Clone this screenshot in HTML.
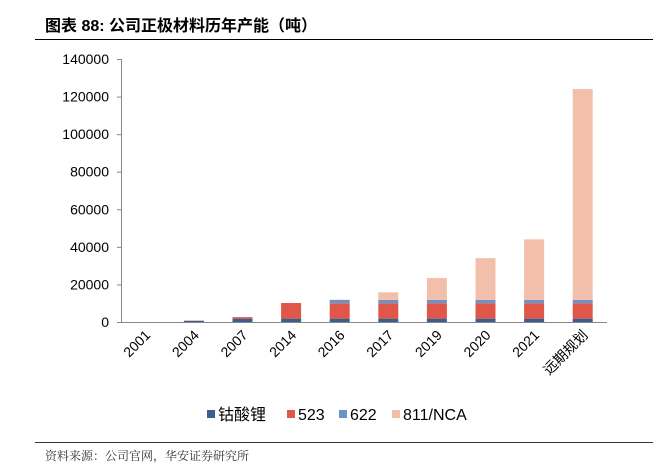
<!DOCTYPE html>
<html><head><meta charset="utf-8">
<style>
body{margin:0;background:#fff;width:653px;height:472px;overflow:hidden;font-family:"Liberation Sans","Noto Sans CJK SC",sans-serif;}
svg{display:block}
</style></head>
<body>
<svg id="chart" width="653" height="472" xmlns="http://www.w3.org/2000/svg">
<text x="45" y="31" font-size="16" font-weight="bold" fill="#000" font-family="Liberation Sans,Noto Sans CJK SC,sans-serif">图表 88:  公司正极材料历年产能（吨）</text>
<line x1="35" y1="39.5" x2="653" y2="39.5" stroke="#000" stroke-width="1"/>
<line x1="35" y1="442.5" x2="653" y2="442.5" stroke="#333" stroke-width="1"/>
<text x="45" y="460" font-size="12" fill="#333" font-family="Liberation Sans,Noto Serif CJK SC,sans-serif">资料来源：公司官网，华安证券研究所</text>
<g id="plot"></g>
<g id="legend"></g>
</svg>
<script>
const categories=["2001","2004","2007","2014","2016","2017","2019","2020","2021","远期规划"];
const licoo2=[0,700,1800,1800,1800,1800,1800,1800,1800,1800];
const ncm523=[0,0,800,8300,8200,8200,8200,8200,8200,8200];
const ncm622=[0,0,0,0,1800,1800,1800,1800,1800,1800];
const nca811=[0,200,0,0,0,4000,11600,22200,32200,112200];
const yTicks=[0,20000,40000,60000,80000,100000,120000,140000];
const seriesNames=["钴酸锂","523","622","811/NCA"];
const seriesData=[licoo2,ncm523,ncm622,nca811];
const colors=["#3d5e8c","#e0574a","#6b93c7","#f2c0aa"];
const NS="http://www.w3.org/2000/svg";
const x0=121,x1=607,yBase=322,yTop=59,yMax=140000;
const bw=(x1-x0)/categories.length, barW=20;
function y(v){return yBase-(v/yMax)*(yBase-yTop);}
function xc(i){return x0+bw*(i+0.5);}
const plot=document.getElementById('plot');
function mk(tag,attrs){const e=document.createElementNS(NS,tag);for(const k in attrs)e.setAttribute(k,attrs[k]);return e;}
let ax=mk('line',{x1:x0+0.5,y1:yTop,x2:x0+0.5,y2:yBase,stroke:'#888'});


plot.appendChild(ax);
let bx=mk('line',{x1:x0,y1:yBase+0.5,x2:x1,y2:yBase+0.5,stroke:'#888'});


plot.appendChild(bx);
yTicks.forEach(t=>{
  const tk=mk('line',{x1:x0-4,y1:y(t)+0.5,x2:x0,y2:y(t)+0.5,stroke:'#888'});
  
  
  plot.appendChild(tk);
  const tx=mk('text',{x:x0-12,y:y(t)+5,'text-anchor':'end','font-size':14,fill:'#000'});
  tx.textContent=t;
  
  
  plot.appendChild(tx);
});
categories.forEach((c,i)=>{
  let acc=0;
  seriesData.forEach((s,k)=>{
    const v=s[i]; if(v<=0) return;
    const r=mk('rect',{x:xc(i)-barW/2,y:y(acc+v),width:barW,height:y(acc)-y(acc+v),fill:colors[k]});
    
    
    plot.appendChild(r);
    acc+=v;
  });
  const tx=mk('text',{x:xc(i)+6,y:yBase+14,'text-anchor':'end','font-size':14,fill:'#000',transform:`rotate(-45 ${xc(i)+6} ${yBase+14})`});
  tx.textContent=c;
  
  
  plot.appendChild(tx);
});
const lg=document.getElementById('legend');
const lx=[207,287,339,392];
seriesNames.forEach((n,k)=>{
  const r=mk('rect',{x:lx[k],y:410,width:8,height:8,fill:colors[k]});
  
  
  lg.appendChild(r);
  const t=mk('text',{x:lx[k]+11,y:420,'font-size':16,fill:'#000'});
  t.textContent=n;
  
  
  lg.appendChild(t);
});
</script>
</body></html>
